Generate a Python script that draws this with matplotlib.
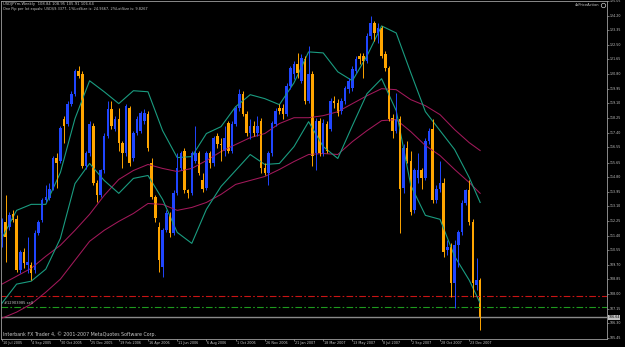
import matplotlib
matplotlib.use("Agg")
import matplotlib.pyplot as plt
from matplotlib.lines import Line2D

# weekly bars, first bar = week of 10 Jul 2005
opens = [111.53, 112.17, 111.88, 112.64, 112.35, 109.39, 110.43, 109.68, 109.68, 109.39,
         111.53, 112.29, 113.45, 113.57, 114.14, 115.89, 115.77, 118.21, 117.92, 119.08,
         119.66, 120.99, 120.82, 115.48, 116.18, 117.80, 114.49, 113.74, 115.19, 117.22,
         118.79, 117.63, 118.21, 116.81, 116.23, 118.84, 115.94, 117.39, 117.51, 118.09,
         118.50, 115.60, 113.62, 111.88, 109.56, 111.71, 112.58, 111.53, 113.86, 115.36,
         116.35, 114.03, 113.86, 115.77, 116.18, 114.61, 114.20, 116.18, 115.60, 117.22,
         116.76, 116.35, 117.97, 116.35, 117.92, 118.84, 119.66, 118.50, 117.39, 117.80,
         117.39, 118.09, 115.36, 115.07, 116.18, 117.92, 118.84, 118.84, 118.50, 120.12,
         120.82, 121.40, 120.41, 121.69, 119.25, 120.82, 116.18, 118.09, 116.23, 117.92,
         117.63, 119.25, 119.13, 118.67, 119.25, 119.95, 120.00, 120.99, 121.86, 121.86,
         121.57, 123.02, 123.77, 123.19, 123.48, 121.98, 121.16, 118.26, 117.51, 118.21,
         114.20, 116.52, 115.77, 112.87, 114.78, 115.19, 114.78, 116.93, 117.63, 113.45,
         114.14, 114.49, 110.55, 110.72, 108.63, 110.84, 111.59, 113.27, 114.03, 112.17,
         108.52, 108.84]
highs = [112.40, 113.74, 112.75, 112.87, 112.58, 110.55, 110.67, 111.30, 109.85, 111.71,
         112.29, 113.57, 114.32, 114.44, 116.06, 116.18, 117.80, 118.38, 119.25, 119.83,
         121.11, 121.28, 120.99, 116.35, 118.09, 117.97, 114.61, 115.30, 117.39, 119.25,
         119.25, 118.38, 118.84, 116.93, 119.08, 118.96, 117.51, 118.38, 118.67, 118.79,
         118.67, 115.89, 113.74, 112.17, 111.82, 112.87, 112.75, 114.03, 116.23, 116.35,
         116.47, 114.14, 116.35, 117.80, 116.35, 115.02, 116.35, 116.35, 117.22, 117.39,
         117.10, 117.80, 118.09, 118.09, 118.96, 119.95, 119.83, 118.67, 118.21, 118.09,
         118.38, 118.26, 115.60, 116.35, 118.09, 118.84, 119.08, 119.08, 120.29, 121.28,
         121.57, 122.03, 121.98, 121.86, 122.44, 120.99, 118.26, 118.26, 118.21, 118.09,
         119.42, 119.54, 119.36, 119.42, 120.12, 120.58, 121.28, 121.86, 122.03, 122.03,
         123.19, 124.18, 123.89, 123.77, 123.60, 122.15, 121.28, 118.50, 119.71, 118.38,
         116.76, 116.93, 116.35, 115.36, 116.23, 115.36, 117.10, 117.68, 118.21, 114.32,
         115.77, 114.73, 111.13, 110.96, 111.13, 111.71, 113.45, 114.14, 114.61, 112.35,
         110.08, 108.95]
lows = [110.72, 109.85, 111.71, 112.17, 109.28, 109.21, 109.51, 109.21, 108.81, 109.21,
        111.42, 112.17, 113.33, 113.45, 114.03, 114.20, 115.65, 116.81, 117.80, 118.96,
        119.54, 120.58, 115.36, 115.30, 116.06, 114.32, 113.33, 113.62, 115.07, 117.10,
        117.63, 117.51, 116.35, 115.36, 116.06, 115.48, 115.77, 117.28, 117.39, 117.92,
        116.35, 113.51, 112.17, 109.28, 108.98, 111.59, 111.30, 111.42, 113.74, 115.19,
        113.86, 113.57, 113.74, 115.65, 114.90, 113.91, 114.03, 115.36, 115.48, 116.52,
        115.77, 116.06, 116.23, 116.18, 117.80, 118.67, 118.38, 117.22, 117.05, 117.22,
        117.22, 115.07, 114.90, 114.32, 116.06, 117.80, 118.50, 118.21, 118.38, 119.95,
        120.52, 120.58, 120.29, 119.08, 119.13, 115.48, 115.19, 116.06, 116.06, 116.18,
        117.51, 118.84, 118.38, 118.50, 119.08, 119.71, 119.83, 120.87, 121.40, 120.58,
        121.45, 122.85, 122.73, 122.61, 121.74, 120.99, 118.09, 117.10, 117.39, 111.53,
        113.86, 115.60, 112.58, 112.69, 114.49, 114.14, 114.61, 116.76, 113.27, 113.27,
        113.91, 110.14, 110.26, 107.82, 107.18, 109.56, 111.42, 113.16, 112.00, 107.82,
        108.23, 105.91]
closes = [112.29, 111.30, 112.58, 112.29, 109.39, 110.43, 109.79, 109.85, 109.21, 111.53,
          112.17, 113.45, 113.62, 114.14, 115.89, 115.65, 117.68, 117.80, 119.08, 119.66,
          120.99, 120.70, 115.48, 116.18, 117.92, 114.44, 113.74, 115.19, 117.22, 118.79,
          117.80, 118.21, 116.81, 116.23, 118.96, 115.65, 117.39, 118.21, 118.55, 118.55,
          116.47, 113.62, 112.40, 109.97, 111.71, 112.69, 111.53, 113.86, 115.36, 116.23,
          114.03, 113.86, 116.18, 116.18, 115.02, 114.14, 116.18, 115.60, 117.10, 116.76,
          116.70, 117.10, 116.35, 117.92, 118.84, 119.66, 118.50, 117.39, 117.80, 117.39,
          117.80, 115.36, 115.07, 116.18, 117.97, 118.67, 118.67, 118.50, 120.12, 121.16,
          121.40, 120.87, 121.74, 119.25, 120.82, 116.06, 118.09, 116.23, 117.97, 116.35,
          119.25, 119.13, 118.55, 119.25, 120.00, 120.41, 121.11, 121.69, 121.69, 121.57,
          123.02, 123.77, 123.19, 123.48, 121.86, 121.16, 118.21, 117.51, 118.21, 114.14,
          116.52, 115.77, 112.75, 115.19, 115.19, 114.78, 116.93, 117.51, 113.45, 114.14,
          114.49, 110.43, 110.72, 108.63, 110.84, 111.59, 113.27, 114.03, 112.17, 108.63,
          108.81, 106.64]

# indicator lines, read every 4th bar
band_idx = [0, 4, 8, 12, 16, 20, 24, 28, 32, 36, 40, 44, 48, 52, 56, 60, 64,
            68, 72, 76, 80, 84, 88, 92, 96, 100, 104, 108, 112, 116, 120, 124, 128, 131]
green_upper = [111.25, 112.87, 113.22, 113.22, 115.07, 118.21, 120.41, 119.77, 119.08,
               119.83, 119.77, 117.51, 115.94, 116.00, 117.34, 117.74, 118.90, 119.60,
               119.37, 119.02, 120.29, 122.09, 122.03, 120.93, 120.41, 121.86, 123.60,
               123.19, 120.87, 118.61, 117.51, 116.41, 114.78, 113.33]
green_lower = [107.47, 108.58, 108.75, 109.45, 111.24, 114.43, 115.60, 114.61, 113.86,
               114.73, 114.90, 113.51, 111.59, 110.95, 112.93, 114.26, 115.19, 116.12,
               115.54, 115.60, 116.58, 118.03, 116.58, 115.89, 117.80, 119.66, 120.53,
               118.67, 114.32, 112.58, 112.35, 110.20, 108.81, 107.47]
red_upper = [108.58, 109.04, 109.50, 110.20, 110.84, 111.71, 112.64, 113.74, 114.67,
             115.19, 115.54, 115.31, 115.13, 115.31, 115.77, 116.29, 116.70, 117.10,
             117.34, 117.92, 118.26, 118.26, 118.38, 118.61, 119.08, 119.54, 119.95,
             119.89, 119.31, 118.96, 118.44, 117.57, 116.81, 116.35]
red_lower = [106.60, 106.95, 107.42, 108.11, 108.87, 109.97, 111.07, 111.71, 112.23,
             112.69, 113.27, 113.22, 112.87, 113.04, 113.33, 113.80, 114.38, 114.61,
             114.84, 115.25, 115.71, 116.12, 116.18, 116.12, 116.87, 117.51, 118.09,
             118.15, 117.45, 116.64, 116.06, 115.25, 114.49, 113.86]

stop_level = 107.88
order_level = 107.24
bid = 106.64

date_idx = [0, 8, 16, 24, 32, 40, 48, 56, 64, 72, 80, 88, 96, 104, 112, 120, 128]
date_labels = ['10 Jul 2005', '4 Sep 2005', '30 Oct 2005', '25 Dec 2005', '19 Feb 2006',
               '16 Apr 2006', '11 Jun 2006', '6 Aug 2006', '1 Oct 2006', '26 Nov 2006',
               '21 Jan 2007', '18 Mar 2007', '13 May 2007', '8 Jul 2007', '2 Sep 2007',
               '28 Oct 2007', '23 Dec 2007']
price_ticks = [125.05, 124.20, 123.35, 122.50, 121.65, 120.80, 119.95, 119.10, 118.25,
               117.40, 116.55, 115.65, 114.80, 113.95, 113.10, 112.25, 111.40, 110.55,
               109.70, 108.85, 108.00, 107.15, 106.30, 105.45]

BLUE = '#2046ff'
ORANGE = '#ffa500'
GREEN = '#1a9c80'
MAROON = '#a3195b'
FG = '#c8c8c8'

W, H = 625, 347
fig = plt.figure(figsize=(W / 100, H / 100), dpi=100, facecolor='black')
ax = fig.add_axes([1 / W, 8 / H, 606 / W, 338 / H])
ax.set_facecolor('black')
ax.set_xlim(-0.27, 165.75)
ax.set_ylim(105.387, 124.992)

for s in ax.spines.values():
    s.set_color('#a0a0a0')
    s.set_linewidth(0.6)

# horizontal order / stop / bid lines
ax.axhline(stop_level, color='#c81414', lw=0.8, dashes=(6, 2, 1.5, 2))
ax.axhline(order_level, color='#1e9a1e', lw=0.8, dashes=(6, 2, 1.5, 2))
ax.axhline(bid, color='#8a8a8a', lw=1.0)

# indicator lines
ax.plot(band_idx, red_upper, color=MAROON, lw=0.75)
ax.plot(band_idx, red_lower, color=MAROON, lw=0.75)
ax.plot(band_idx, green_upper, color=GREEN, lw=0.8)
ax.plot(band_idx, green_lower, color=GREEN, lw=0.8)

# candles
for i in range(len(opens)):
    o, h, l, c = opens[i], highs[i], lows[i], closes[i]
    col = BLUE if c >= o else ORANGE
    ax.vlines(i, l, h, color=col, lw=0.7)
    ax.bar(i, max(abs(c - o), 0.04), bottom=min(o, c), width=0.7, color=col, linewidth=0)

# axes ticks
ax.yaxis.tick_right()
ax.set_yticks(price_ticks)
ax.set_xticks(date_idx)
ax.tick_params(axis='both', colors='#a0a0a0', length=1.5, width=0.5,
               labelbottom=False, labelright=False, labelleft=False)

ytr = ax.get_yaxis_transform()
for v in price_ticks:
    ax.text(1.004, v, f'{v:.2f}', transform=ytr, fontsize=2.3, color=FG,
            va='center', ha='left', clip_on=False)
ax.text(1.002, bid, f'{bid:.2f}', transform=ytr, fontsize=2.3, color='black',
        va='center', ha='left', clip_on=False,
        bbox=dict(facecolor='#c0c0c0', edgecolor='none', pad=0.4))

xtr = ax.get_xaxis_transform()
for i, lab in zip(date_idx, date_labels):
    ax.text(i + 0.3, -0.012, lab, transform=xtr, fontsize=2.4, color=FG,
            va='center', ha='left', clip_on=False)

ax.text(0.5, order_level + 0.12, '#12903985 sell', fontsize=2.6, color=FG,
        va='bottom', ha='left')


def px(x, y):
    return x / W, 1 - y / H


fig.text(*px(3, 3.6), 'USDJPYm,Weekly  108.84 108.95 105.91 106.64', fontsize=2.7,
         color=FG, va='center', ha='left')
fig.text(*px(3, 8.7), 'One Pip per lot equals: USD$9.3377, 1%LotSize is: 24.9667, '
         '2%LotSize is: 9.8267', fontsize=2.5, color=FG, va='center', ha='left')
fig.text(*px(599, 5), '4xPriceAction', fontsize=2.6, color=FG, va='center', ha='right')
fig.add_artist(Line2D([602.5 / W], [1 - 5 / H], marker='o', ms=3.2, mfc='none',
                      mec=FG, mew=0.5, transform=fig.transFigure))
fig.text(*px(3, 334), 'Interbank FX Trader 4, \u00a9 2001-2007 MetaQuotes Software Corp.',
         fontsize=3.4, color=FG, va='center', ha='left')

fig.savefig('out.png', dpi=100, facecolor='black')
